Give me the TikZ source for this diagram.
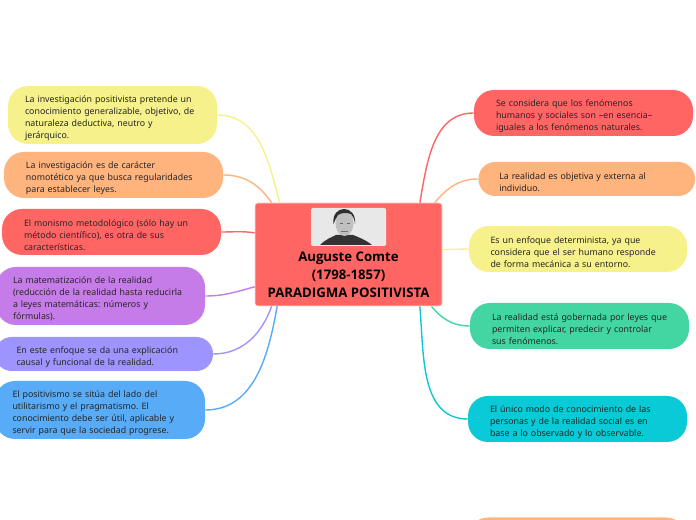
\documentclass[tikz,border=0pt]{standalone}
\usepackage{fontspec}
\setmainfont{Noto Sans}
\newfontfamily\hubfont{Open Sans}
\frenchspacing
\definecolor{ideayellow}{RGB}{246,241,139}
\definecolor{ideaorange}{RGB}{255,179,125}
\definecolor{ideared}{RGB}{255,102,99}
\definecolor{ideapurple}{RGB}{198,124,232}
\definecolor{ideaviolet}{RGB}{158,148,255}
\definecolor{ideablue}{RGB}{87,171,247}
\definecolor{ideagreen}{RGB}{67,214,163}
\definecolor{ideacyan}{RGB}{9,202,214}
\tikzset{
  idea/.style={rounded corners=15pt, minimum height=34.5pt, inner xsep=0pt, inner ysep=0pt, text width=131.25pt,
    align=left, font=\fontsize{6.62}{9}\selectfont, text=black!85, execute at begin node={\vskip 0.6pt}},
  pill/.style={rounded corners=12.5pt, minimum height=25.5pt},
  tall/.style={minimum height=43.5pt},
  hub/.style={fill=ideared, draw=ideared!25, line width=0.5pt, rounded corners=2pt, minimum width=140.25pt, minimum height=77.25pt},
  hubtext/.style={align=center, inner sep=0pt, font=\hubfont\fontsize{9.9}{13.5}\selectfont\bfseries},
  link/.style={line width=1.05pt}
}
\begin{document}
\begin{tikzpicture}[x=0.75pt, y=0.75pt]
\useasboundingbox (0,0) rectangle (696,520);

\node [hub] (comte) at (348.5,265.5) {};
\node [hubtext] (title) at (348.5,245) {Auguste Comte\\(1798-1857)\\PARADIGMA POSITIVISTA};

\node [inner sep=0pt, fill=black!9, rounded corners=1pt, minimum width=56.25pt, minimum height=28.5pt] (photo) at (348.5,293) {};
\fill [black!80] (320,275) .. controls (326,281) and (332,283) .. (336,285) -- (353,285) .. controls (358,283) and (366,280) .. (372,275) -- cycle;
\fill [black!25] (344.5,297) ellipse (9 and 13);
\fill [black!82] (333.5,296) .. controls (331,316) and (357,316) .. (355,296) .. controls (354.5,301) and (353,304) .. (351,306) .. controls (346,308) and (341,307) .. (338,305) .. controls (336,302) and (334.5,299) .. (333.5,296) -- cycle;
\fill [black!60] (339.5,296) rectangle (343,297.3);
\fill [black!60] (346.5,296) rectangle (350,297.3);
\fill [black!55] (341,287.5) rectangle (348,288.6);

\node [idea, tall, fill=ideayellow, minimum width=156.75pt] (invest) at (112.5,405) {La investigación positivista pretende un\\conocimiento generalizable, objetivo, de\\naturaleza deductiva, neutro y\\jerárquico.};
\node [idea, fill=ideaorange, minimum width=164.25pt] (nomot) at (113.5,345) {La investigación es de carácter\\nomotético ya que busca regularidades\\para establecer leyes.};
\node [idea, fill=ideared, minimum width=164.25pt] (monismo) at (111.5,288) {El monismo metodológico (sólo hay un\\método científico), es otra de sus\\características.};
\node [idea, tall, fill=ideapurple, minimum width=156.75pt] (matem) at (100.5,224) {La matematización de la realidad\\(reducción de la realidad hasta reducirla\\a leyes matemáticas: números y\\fórmulas).};
\node [idea, pill, fill=ideaviolet, minimum width=163.5pt] (causal) at (104,166) {En este enfoque se da una explicación\\causal y funcional de la realidad.};
\node [idea, tall, fill=ideablue, minimum width=157.5pt] (util) at (100,110) {El positivismo se sitúa del lado del\\utilitarismo y el pragmatismo. El\\conocimiento debe ser útil, aplicable y\\servir para que la sociedad progrese.};

\node [idea, fill=ideared, minimum width=164.25pt] (humanos) at (583.5,407) {Se considera que los fenómenos\\humanos y sociales son –en esencia–\\iguales a los fenómenos naturales.};
\node [idea, pill, fill=ideaorange, minimum width=162.4pt] (externa) at (586.75,341) {La realidad es objetiva y externa al\\individuo.};
\node [idea, fill=ideayellow, minimum width=163.5pt] (determ) at (578,271) {Es un enfoque determinista, ya que\\considera que el ser humano responde\\de forma mecánica a su entorno.};
\node [idea, fill=ideagreen, minimum width=164.25pt] (leyes) at (579.5,194) {\mbox{La realidad está gobernada por leyes que}\\permiten explicar, predecir y controlar\\sus fenómenos.};
\node [idea, fill=ideacyan, minimum width=164.25pt] (modo) at (577.5,101) {El único modo de conocimiento de las\\personas y de la realidad social es en\\base a lo observado y lo observable.};
\node [idea, fill=ideaorange, minimum width=163.5pt] (resto) at (577,-20.5) {};

\draw [link, ideayellow] (invest.east) to[out=0, in=105] (comte.143.9);
\draw [link, ideaorange] (nomot.east) to[out=0, in=125] (comte.146.7);
\draw [link, ideared] (monismo.east) to[out=0, in=172] (comte.167.6);
\draw [link, ideapurple] (matem.east) to[out=0, in=195] (comte.199.7);
\draw [link, ideaviolet] (causal.east) to[out=0, in=250] (comte.214.2);
\draw [link, ideablue] (util.east) to[out=0, in=260] (comte.216);

\draw [link, ideared] (humanos.west) to[out=180, in=80] (comte.36);
\draw [link, ideaorange] (externa.west) to[out=180, in=50] (comte.31.8);
\draw [link, ideayellow] (determ.west) -- (comte.3.4);
\draw [link, ideagreen] (leyes.west) to[out=180, in=310] (comte.-32.3);
\draw [link, ideacyan] (modo.west) to[out=180, in=275] (comte.-36.5);
\end{tikzpicture}
\end{document}
